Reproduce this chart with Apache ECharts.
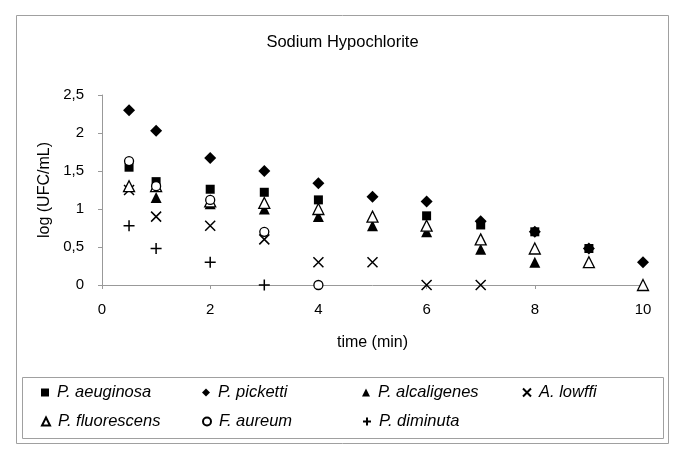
<!DOCTYPE html>
<html><head><meta charset="utf-8">
<script src="https://cdn.jsdelivr.net/npm/echarts@6/dist/echarts.min.js"></script>
<style>html,body{margin:0;padding:0;background:#fff}#c{width:685px;height:460px}</style>
</head><body><div id="c"></div>
<script>
const times = [0.5, 1, 2, 3, 4, 5, 6, 7, 8, 9, 10];
const seriesNames = ['P. aeuginosa', 'P. picketti', 'P. alcaligenes', 'A. lowffi', 'P. fluorescens', 'F. aureum', 'P. diminuta'];
const aeuginosa   = [1.55, 1.36, 1.26, 1.22, 1.12, null, 0.91, 0.79, 0.70, 0.48, null];
const picketti    = [2.30, 2.03, 1.67, 1.50, 1.34, 1.16, 1.10, 0.84, 0.70, 0.48, 0.30];
const alcaligenes = [1.30, 1.15, 1.07, 1.00, 0.90, 0.78, 0.70, 0.47, 0.30, null, null];
const lowffi      = [1.25, 0.90, 0.78, 0.60, 0.30, 0.30, 0.00, 0.00, null, null, null];
const fluorescens = [1.30, 1.30, 1.10, 1.08, 1.00, 0.90, 0.78, 0.60, 0.48, 0.30, 0.00];
const aureum      = [1.63, 1.30, 1.12, 0.70, 0.00, null, null, null, null, null, null];
const diminuta    = [0.78, 0.48, 0.30, 0.00, null, null, null, null, null, null, null];
const xTicks = [0, 2, 4, 6, 8, 10];
const yTicks = [0, 0.5, 1, 1.5, 2, 2.5];

const values = [aeuginosa, picketti, alcaligenes, lowffi, fluorescens, aureum, diminuta];
const styles = [
  {symbol: 'rect', size: 9, item: {color: '#000', opacity: 1}},
  {symbol: 'diamond', size: 12, item: {color: '#000', opacity: 1}},
  {symbol: 'triangle', size: 11, item: {color: '#000', opacity: 1}},
  {symbol: 'path://M0,0L10,10M10,0L0,10', size: 10, item: {color: 'rgba(0,0,0,0)', borderColor: '#000', borderWidth: 1.5, opacity: 1}},
  {symbol: 'triangle', size: 11, item: {color: '#fff', borderColor: '#000', borderWidth: 1.3, opacity: 1}},
  {symbol: 'circle', size: 9, item: {color: '#fff', borderColor: '#000', borderWidth: 1.3, opacity: 1}},
  {symbol: 'path://M5,0L5,10M0,5L10,5', size: 11, item: {color: 'rgba(0,0,0,0)', borderColor: '#000', borderWidth: 1.5, opacity: 1}}
];

const series = seriesNames.map((name, k) => ({
  name: name,
  type: 'scatter',
  symbol: styles[k].symbol,
  symbolSize: styles[k].size,
  itemStyle: styles[k].item,
  emphasis: {disabled: true},
  data: times.map((t, i) => values[k][i] == null ? null : [t, values[k][i]]).filter(d => d),
  z: 2 + k
}));

const colX = [41, 202, 362, 522];
const rowY = [384, 413];
const legends = seriesNames.map((name, k) => ({
  data: [name],
  left: colX[k % 4],
  top: rowY[Math.floor(k / 4)],
  orient: 'horizontal',
  padding: 0,
  itemWidth: 8,
  itemHeight: 8,
  itemGap: 0,
  textStyle: {fontFamily: 'Liberation Sans', fontSize: 16.5, fontStyle: 'italic', color: '#000', padding: [0, 0, 0, 3]},
  selectedMode: false
}));

const chart = echarts.init(document.getElementById('c'));
chart.setOption({
  animation: false,
  backgroundColor: '#fff',
  title: {
    text: 'Sodium Hypochlorite', left: 'center', top: 34, padding: 0,
    textStyle: {fontFamily: 'Liberation Sans', fontSize: 16.5, fontWeight: 'normal', color: '#000'}
  },
  legend: legends,
  graphic: [
    {type: 'rect', shape: {x: 16.5, y: 15.5, width: 652, height: 428}, style: {fill: 'none', stroke: '#a0a0a0', lineWidth: 1}, z: 0},
    {type: 'rect', shape: {x: 22.5, y: 377.5, width: 641, height: 61}, style: {fill: 'none', stroke: '#a0a0a0', lineWidth: 1}, z: 0}
  ],
  grid: {left: 102, right: 42, top: 95, bottom: 175, containLabel: false},
  xAxis: {
    type: 'value', min: 0, max: 10, interval: 2,
    name: 'time (min)', nameLocation: 'middle', nameGap: 50,
    nameTextStyle: {fontFamily: 'Liberation Sans', fontSize: 16, color: '#000'},
    axisLine: {show: true, onZero: false, lineStyle: {color: '#999', width: 1}},
    axisTick: {show: true, length: 4, lineStyle: {color: '#999'}},
    axisLabel: {fontFamily: 'Liberation Sans', fontSize: 15, color: '#000', margin: 17,
      formatter: v => xTicks.includes(v) ? String(v) : ''},
    splitLine: {show: false}
  },
  yAxis: {
    type: 'value', min: 0, max: 2.5, interval: 0.5,
    name: 'log (UFC/mL)', nameLocation: 'middle', nameGap: 42, nameRotate: 90,
    nameTextStyle: {fontFamily: 'Liberation Sans', fontSize: 16, color: '#000'},
    axisLine: {show: true, lineStyle: {color: '#999', width: 1}},
    axisTick: {show: true, length: 4, lineStyle: {color: '#999'}},
    axisLabel: {fontFamily: 'Liberation Sans', fontSize: 15, color: '#000', margin: 18,
      formatter: v => yTicks.includes(v) ? String(v).replace('.', ',') : ''},
    splitLine: {show: false}
  },
  series: series
});
</script></body></html>
